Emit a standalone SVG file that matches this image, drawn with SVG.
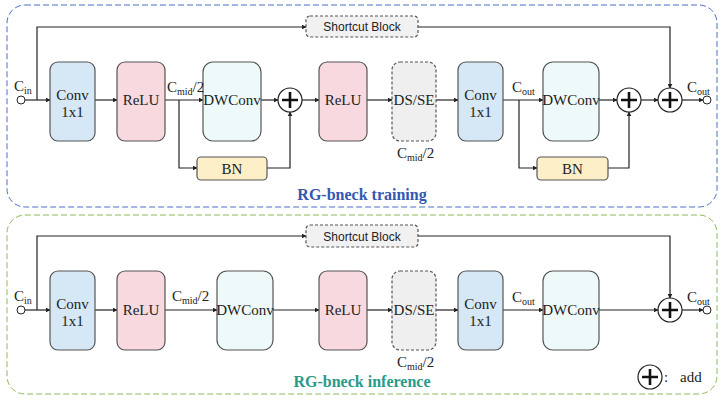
<svg xmlns="http://www.w3.org/2000/svg" width="725" height="402" viewBox="0 0 725 402" font-family="'Liberation Serif', 'Times New Roman', serif">
<style>
text{font-family:'Liberation Serif','Times New Roman',serif;fill:#222;font-size:15px}
.t{text-anchor:middle}
.sans{font-family:'Liberation Sans',Arial,sans-serif;font-size:12px}
.sub{font-size:10px}
.box{stroke:#555;stroke-width:1.2}
.conv{fill:#d6e7f6}
.relu{fill:#f8d9df}
.dw{fill:#eefafa}
.bn{fill:#fdf0c8}
.ds{fill:#efefef;stroke-dasharray:3,2}
.sc{fill:#f1f1f1;stroke-dasharray:3,2}
.ln{fill:none;stroke:#222;stroke-width:1.2}
.add{fill:#fff;stroke:#222;stroke-width:1.2}
.plus{stroke:#111;stroke-width:2.6}
.hole{fill:#fff;stroke:#222;stroke-width:1}
</style>
<defs>
<marker id="ah" viewBox="0 0 8 8" refX="7" refY="4" markerWidth="5" markerHeight="5" orient="auto" markerUnits="userSpaceOnUse">
<path d="M0,0 L8,4 L0,8 z" fill="#222"/>
</marker>
<g id="plus">
<circle class="add" cx="0" cy="0" r="12"/>
<path class="plus" d="M-8,0 H8 M0,-8 V8"/>
</g>
</defs>
<rect width="725" height="402" fill="#fff"/>

<g id="panel-training">
<rect x="7" y="5" width="710" height="202" rx="18" fill="none" stroke="#4a6fc4" stroke-width="1" stroke-dasharray="6,3"/>
<text class="t" x="362" y="200" style="font-weight:bold;font-size:16px;fill:#3457b0">RG-bneck training</text>
</g>
<g id="panel-inference">
<rect x="7" y="215" width="710" height="179" rx="18" fill="none" stroke="#8cbc5c" stroke-width="1" stroke-dasharray="6,3"/>
<text class="t" x="362" y="387" style="font-weight:bold;font-size:16px;fill:#2a9a8a">RG-bneck inference</text>
</g>

<g id="connectors">
<circle class="hole" cx="21" cy="100" r="4"/>
<path class="ln" d="M25,100 H50" marker-end="url(#ah)"/>
<path class="ln" d="M37,100 V27 H306" marker-end="url(#ah)"/>
<path class="ln" d="M418,27 H670 V88" marker-end="url(#ah)"/>
<path class="ln" d="M95,100 H117" marker-end="url(#ah)"/>
<path class="ln" d="M165,100 H203" marker-end="url(#ah)"/>
<path class="ln" d="M179,100 V168 H197" marker-end="url(#ah)"/>
<path class="ln" d="M261,100 H278" marker-end="url(#ah)"/>
<path class="ln" d="M267,168 H290 V112" marker-end="url(#ah)"/>
<path class="ln" d="M302,100 H319" marker-end="url(#ah)"/>
<path class="ln" d="M367,100 H392" marker-end="url(#ah)"/>
<path class="ln" d="M436,100 H458" marker-end="url(#ah)"/>
<path class="ln" d="M503,100 H543" marker-end="url(#ah)"/>
<path class="ln" d="M519,100 V168 H537" marker-end="url(#ah)"/>
<path class="ln" d="M599,100 H617" marker-end="url(#ah)"/>
<path class="ln" d="M608,168 H629 V112" marker-end="url(#ah)"/>
<path class="ln" d="M641,100 H658" marker-end="url(#ah)"/>
<path class="ln" d="M682,100 H703" marker-end="url(#ah)"/>
<circle class="hole" cx="707" cy="100" r="4"/>
<circle class="hole" cx="21" cy="310" r="4"/>
<path class="ln" d="M25,310 H50" marker-end="url(#ah)"/>
<path class="ln" d="M37,310 V236 H306" marker-end="url(#ah)"/>
<path class="ln" d="M418,236 H670 V298" marker-end="url(#ah)"/>
<path class="ln" d="M95,310 H117" marker-end="url(#ah)"/>
<path class="ln" d="M165,310 H217" marker-end="url(#ah)"/>
<path class="ln" d="M273,310 H319" marker-end="url(#ah)"/>
<path class="ln" d="M367,310 H392" marker-end="url(#ah)"/>
<path class="ln" d="M436,310 H458" marker-end="url(#ah)"/>
<path class="ln" d="M503,310 H543" marker-end="url(#ah)"/>
<path class="ln" d="M599,310 H658" marker-end="url(#ah)"/>
<path class="ln" d="M682,310 H703" marker-end="url(#ah)"/>
<circle class="hole" cx="707" cy="310" r="4"/>
</g>

<g id="t-conv1"><rect class="box conv" x="50" y="62" width="45" height="79" rx="8"/><text class="t" x="72.5" y="100">Conv</text><text class="t" x="72.5" y="117">1x1</text></g>
<g id="t-relu1"><rect class="box relu" x="117" y="62" width="48" height="79" rx="8"/><text class="t" x="141" y="105">ReLU</text></g>
<g id="t-dwconv1"><rect class="box dw" x="203" y="62" width="58" height="79" rx="10"/><text class="t" x="232" y="105">DWConv</text></g>
<g id="t-bn1"><rect class="box bn" x="197" y="157" width="70" height="23" rx="4"/><text class="t" x="232" y="174">BN</text></g>
<g id="t-add1"><use href="#plus" x="290" y="100"/></g>
<g id="t-relu2"><rect class="box relu" x="319" y="62" width="48" height="79" rx="8"/><text class="t" x="343" y="105">ReLU</text></g>
<g id="t-dsse"><rect class="box ds" x="392" y="62" width="44" height="79" rx="8"/><text class="t" x="414" y="105">DS/SE</text></g>
<g id="t-conv2"><rect class="box conv" x="458" y="62" width="45" height="79" rx="8"/><text class="t" x="480.5" y="100">Conv</text><text class="t" x="480.5" y="117">1x1</text></g>
<g id="t-dwconv2"><rect class="box dw" x="543" y="62" width="56" height="79" rx="10"/><text class="t" x="571" y="105">DWConv</text></g>
<g id="t-bn2"><rect class="box bn" x="537" y="157" width="71" height="23" rx="4"/><text class="t" x="572.5" y="174">BN</text></g>
<g id="t-add2"><use href="#plus" x="629" y="100"/></g>
<g id="t-add3"><use href="#plus" x="670" y="100"/></g>
<g id="t-shortcut"><rect class="box sc" x="306" y="16" width="112" height="21" rx="4"/><text class="t sans" x="362" y="31">Shortcut Block</text></g>
<g id="t-labels">
<text x="14" y="91">C<tspan class="sub" dy="3">in</tspan></text>
<text x="167" y="92">C<tspan class="sub" dy="3">mid</tspan><tspan dy="-3">/2</tspan></text>
<text x="397" y="158">C<tspan class="sub" dy="3">mid</tspan><tspan dy="-3">/2</tspan></text>
<text x="512" y="92">C<tspan class="sub" dy="3">out</tspan></text>
<text x="687" y="92">C<tspan class="sub" dy="3">out</tspan></text>
</g>

<g id="i-conv1"><rect class="box conv" x="50" y="271" width="45" height="79" rx="8"/><text class="t" x="72.5" y="309">Conv</text><text class="t" x="72.5" y="326">1x1</text></g>
<g id="i-relu1"><rect class="box relu" x="117" y="271" width="48" height="79" rx="8"/><text class="t" x="141" y="315">ReLU</text></g>
<g id="i-dwconv1"><rect class="box dw" x="217" y="271" width="56" height="79" rx="10"/><text class="t" x="245" y="315">DWConv</text></g>
<g id="i-relu2"><rect class="box relu" x="319" y="271" width="48" height="79" rx="8"/><text class="t" x="343" y="315">ReLU</text></g>
<g id="i-dsse"><rect class="box ds" x="392" y="271" width="44" height="79" rx="8"/><text class="t" x="414" y="315">DS/SE</text></g>
<g id="i-conv2"><rect class="box conv" x="458" y="271" width="45" height="79" rx="8"/><text class="t" x="480.5" y="309">Conv</text><text class="t" x="480.5" y="326">1x1</text></g>
<g id="i-dwconv2"><rect class="box dw" x="543" y="271" width="56" height="79" rx="10"/><text class="t" x="571" y="315">DWConv</text></g>
<g id="i-add"><use href="#plus" x="670" y="310"/></g>
<g id="i-shortcut"><rect class="box sc" x="306" y="225" width="112" height="22" rx="4"/><text class="t sans" x="362" y="241">Shortcut Block</text></g>
<g id="i-labels">
<text x="14" y="301">C<tspan class="sub" dy="3">in</tspan></text>
<text x="172" y="301">C<tspan class="sub" dy="3">mid</tspan><tspan dy="-3">/2</tspan></text>
<text x="397" y="367">C<tspan class="sub" dy="3">mid</tspan><tspan dy="-3">/2</tspan></text>
<text x="512" y="302">C<tspan class="sub" dy="3">out</tspan></text>
<text x="687" y="302">C<tspan class="sub" dy="3">out</tspan></text>
</g>

<g id="legend"><use href="#plus" x="650" y="377"/><text x="664" y="382">:</text><text x="680" y="382">add</text></g>
</svg>
